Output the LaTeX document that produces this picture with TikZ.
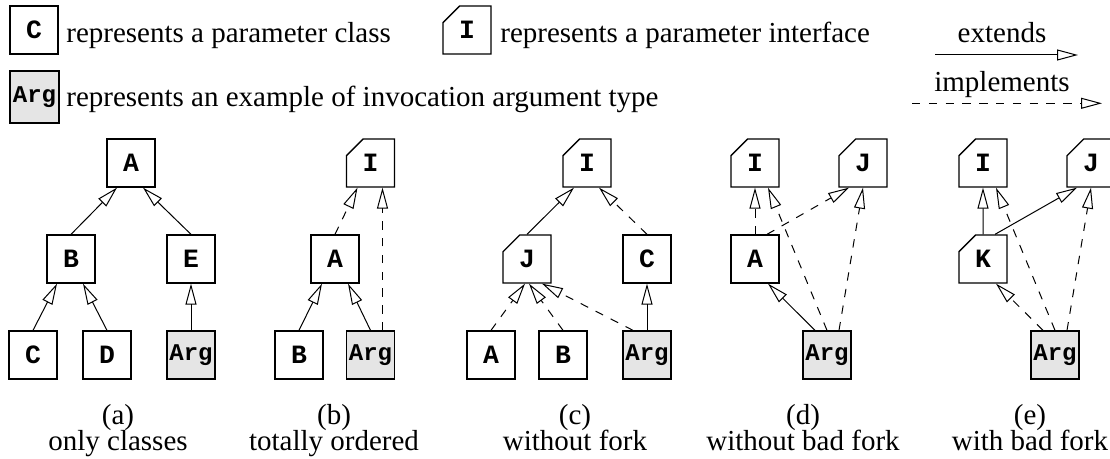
\documentclass[tikz,border=0pt]{standalone}
\usepackage{fontspec}
\setmainfont{Liberation Serif}
\setmonofont{Liberation Mono}
\usetikzlibrary{arrows.meta,shapes.misc}

\newcommand{\lblfont}{\fontsize{13.2}{13.2}\selectfont\ttfamily\bfseries}
\newcommand{\argfont}{\fontsize{12}{12}\selectfont\ttfamily\bfseries}
\newcommand{\txtfont}{\fontsize{14.5}{14.5}\selectfont}

\tikzset{
  cls/.style={draw, line width=0.65pt, fill=white, minimum size=24pt, inner sep=0pt, font=\lblfont},
  iface/.style={cls, chamfered rectangle, chamfered rectangle corners=north west, chamfered rectangle sep=6pt},
  argbox/.style={cls, fill=gray!20, font=\argfont},
  txt/.style={font=\txtfont, inner sep=0pt},
  ext/.style={line width=0.5pt, -{Triangle[open, length=10.5pt, width=5.5pt]}},
  impl/.style={ext, dash pattern=on 4.2pt off 4.2pt},
}

\begin{document}
\begin{tikzpicture}[x=0.5pt,y=-0.5pt]
  \useasboundingbox (0,0) rectangle (1110,459);

  % legend
  \node[cls] (legC) at (34,30) {C};
  \node[txt, anchor=base west] (legCtxt) at (66,42.5) {represents a parameter class};
  \node[iface] (legI) at (467,30) {I};
  \node[txt, anchor=base west] (legItxt) at (500,42.5) {represents a parameter interface};
  \node[argbox, minimum width=24.5pt, minimum height=26pt] (legArg) at (34.5,97) {Arg};
  \node[txt, anchor=base west] (legArgtxt) at (66,107) {represents an example of invocation argument type};

  \node[txt, anchor=base] (extTxt) at (1002,42.7) {extends};
  \coordinate (extL) at (935,55);
  \coordinate (extR) at (1078,55);
  \draw[ext] (extL) -- (extR);
  \node[txt, anchor=base] (implTxt) at (1002,91.7) {implements};
  \coordinate (implL) at (912,103.3);
  \coordinate (implR) at (1102,103.3);
  \draw[impl] (implL) -- (implR);

  % (a) only classes
  \node[cls] (aA) at (131,163) {A};
  \node[cls] (aB) at (71,259) {B};
  \node[cls] (aE) at (191,259) {E};
  \node[cls] (aC) at (33,355) {C};
  \node[cls] (aD) at (107,355) {D};
  \node[argbox] (aArg) at (191,355) {Arg};
  \draw[ext] (aB.north) -- ([xshift=-7pt]aA.south);
  \draw[ext] (aE.north) -- ([xshift=6pt]aA.south);
  \draw[ext] (aC.north) -- ([xshift=-7pt]aB.south);
  \draw[ext] (aD.north) -- ([xshift=6pt]aB.south);
  \draw[ext] (aArg) -- (aE);

  % (b) totally ordered
  \node[iface] (bI) at (370.5,163) {I};
  \node[cls] (bA) at (335,259) {A};
  \node[cls] (bB) at (299,355) {B};
  \node[argbox] (bArg) at (370.5,355) {Arg};
  \draw[impl] (bA.north) -- ([xshift=-6.5pt]bI.south);
  \draw[impl] ([xshift=6pt]bArg.north) -- ([xshift=6pt]bI.south);
  \draw[ext] (bB.north) -- ([xshift=-6.5pt]bA.south);
  \draw[ext] (bArg.north) -- ([xshift=6.5pt]bA.south);

  % (c) without fork
  \node[iface] (cI) at (587,163) {I};
  \node[iface] (cJ) at (527,259) {J};
  \node[cls] (cC) at (647,259) {C};
  \node[cls] (cA) at (491,355) {A};
  \node[cls] (cB) at (563,355) {B};
  \node[argbox] (cArg) at (647,355) {Arg};
  \draw[ext] (cJ.north) -- ([xshift=-6.5pt]cI.south);
  \draw[impl] (cC.north) -- ([xshift=6pt]cI.south);
  \draw[impl] (cA.north) -- ([xshift=-1pt]cJ.south);
  \draw[impl] (cB.north) -- ([xshift=1pt]cJ.south);
  \draw[impl] ([xshift=-7pt]cArg.north) -- ([xshift=7.5pt]cJ.south);
  \draw[ext] (cArg) -- (cC);

  % (d) without bad fork
  \node[iface] (dI) at (755,163) {I};
  \node[iface] (dJ) at (863,163) {J};
  \node[cls] (dA) at (755,259) {A};
  \node[argbox] (dArg) at (827,355) {Arg};
  \draw[impl] (dA) -- (dI);
  \draw[impl] ([xshift=6pt]dA.north) -- ([xshift=-7pt]dJ.south);
  \draw[impl] (dArg.north) -- ([xshift=6.5pt]dI.south);
  \draw[impl] ([xshift=6pt]dArg.north) -- (dJ.south);
  \draw[ext] ([xshift=-6pt]dArg.north) -- ([xshift=6.5pt]dA.south);

  % (e) with bad fork
  \node[iface] (eI) at (983,163) {I};
  \node[iface] (eJ) at (1091,163) {J};
  \node[iface] (eK) at (983,259) {K};
  \node[argbox] (eArg) at (1055,355) {Arg};
  \draw[ext] (eK) -- (eI);
  \draw[ext] ([xshift=6pt]eK.north) -- ([xshift=-7pt]eJ.south);
  \draw[impl] (eArg.north) -- ([xshift=6.5pt]eI.south);
  \draw[impl] ([xshift=6pt]eArg.north) -- (eJ.south);
  \draw[impl] ([xshift=-6pt]eArg.north) -- ([xshift=6.5pt]eK.south);

  % captions
  \node[txt, anchor=base] (capA) at (118,425) {(a)};
  \node[txt, anchor=base] (subA) at (118,451) {only classes};
  \node[txt, anchor=base] (capB) at (334,425) {(b)};
  \node[txt, anchor=base] (subB) at (334,451) {totally ordered};
  \node[txt, anchor=base] (capC) at (575,425) {(c)};
  \node[txt, anchor=base] (subC) at (575,451) {without fork};
  \node[txt, anchor=base] (capD) at (803,425) {(d)};
  \node[txt, anchor=base] (subD) at (803,451) {without bad fork};
  \node[txt, anchor=base] (capE) at (1030,425) {(e)};
  \node[txt, anchor=base] (subE) at (1030,451) {with bad fork};
\end{tikzpicture}
\end{document}
